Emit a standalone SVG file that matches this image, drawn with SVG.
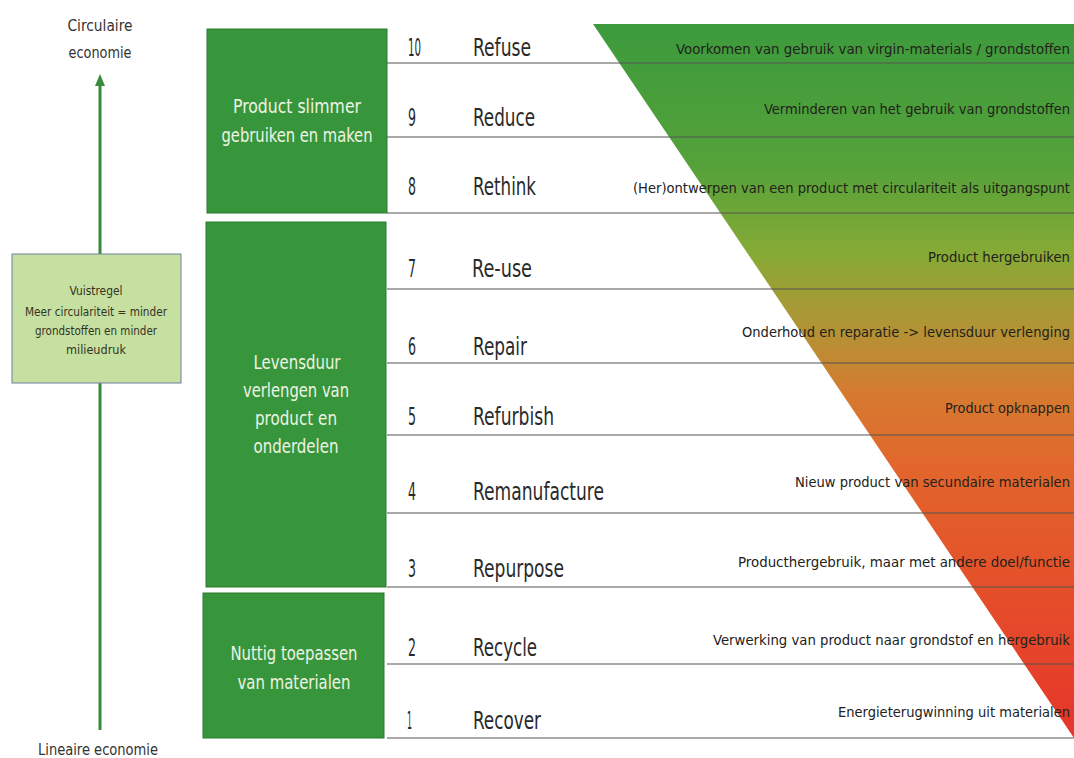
<svg xmlns="http://www.w3.org/2000/svg" width="1074" height="758" viewBox="0 0 1074 758">
<defs>
<style>
.f{font-family:"DejaVu Sans Condensed","Liberation Sans Narrow",Roboto,"Liberation Sans",sans-serif}
.num{font-size:24px;fill:#2a2a2a}
.lbl{font-size:24px;fill:#2a2a2a}
.desc{font-size:14.5px;fill:#22221c}
.box{fill:#37963b;stroke:#2b7a33;stroke-width:1}
.bt{fill:#eef3e4;text-anchor:middle}
.sep{stroke:#555550;stroke-width:1.2;fill:none}
.side{font-size:16px;fill:#333;text-anchor:middle}
.vt{font-size:12px;fill:#33331f;text-anchor:middle}
</style>
<linearGradient id="grad" gradientUnits="userSpaceOnUse" x1="0" y1="24" x2="0" y2="738">
<stop offset="0" stop-color="#3c9a3c"/>
<stop offset="0.2" stop-color="#55a23a"/>
<stop offset="0.32" stop-color="#86aa35"/>
<stop offset="0.42" stop-color="#b09535"/>
<stop offset="0.52" stop-color="#d67a30"/>
<stop offset="0.62" stop-color="#e2662c"/>
<stop offset="0.8" stop-color="#e54e2a"/>
<stop offset="1" stop-color="#e5352a"/>
</linearGradient>
</defs>
<rect width="1074" height="758" fill="#ffffff"/>

<g id="triangle">
<polygon points="593,24 1074,24 1074,738" fill="url(#grad)"/>
</g>

<g id="connectors">
<line x1="100" y1="730" x2="100" y2="383" stroke="#3a8a3a" stroke-width="3"/>
<line x1="100" y1="254" x2="100" y2="84" stroke="#3a8a3a" stroke-width="3"/>
<path d="M95,86 L100,74 L105,86 Z" fill="#3a8a3a"/>
<g class="sep">
<line x1="387" y1="63" x2="1074" y2="63"/>
<line x1="387" y1="137" x2="1074" y2="137"/>
<line x1="387" y1="213" x2="1074" y2="213"/>
<line x1="387" y1="289" x2="1074" y2="289"/>
<line x1="387" y1="363" x2="1074" y2="363"/>
<line x1="387" y1="435" x2="1074" y2="435"/>
<line x1="387" y1="513" x2="1074" y2="513"/>
<line x1="387" y1="587" x2="1074" y2="587"/>
<line x1="387" y1="664" x2="1074" y2="664"/>
<line x1="387" y1="738" x2="1074" y2="738"/>
</g>
</g>

<g id="circulaire" class="f">
<text class="side" x="100" y="31" textLength="65" lengthAdjust="spacingAndGlyphs">Circulaire</text>
<text class="side" x="100" y="58" textLength="63" lengthAdjust="spacingAndGlyphs">economie</text>
</g>

<g id="lineaire" class="f">
<text class="side" x="98" y="755" textLength="120" lengthAdjust="spacingAndGlyphs">Lineaire economie</text>
</g>

<g id="vuistregel" class="f">
<rect x="12" y="254" width="169" height="129" fill="#c6e0a2" stroke="#7080a0" stroke-width="1"/>
<text class="vt" x="96" y="295" textLength="53" lengthAdjust="spacingAndGlyphs">Vuistregel</text>
<text class="vt" x="96" y="316" textLength="142" lengthAdjust="spacingAndGlyphs">Meer circulariteit = minder</text>
<text class="vt" x="96" y="335" textLength="122" lengthAdjust="spacingAndGlyphs">grondstoffen en minder</text>
<text class="vt" x="96" y="354" textLength="60" lengthAdjust="spacingAndGlyphs">milieudruk</text>
</g>

<g id="box-slimmer" class="f">
<rect class="box" x="207" y="29" width="180" height="184"/>
<text class="bt" x="297" y="113" font-size="20" textLength="128" lengthAdjust="spacingAndGlyphs">Product slimmer</text>
<text class="bt" x="297" y="142" font-size="20" textLength="151" lengthAdjust="spacingAndGlyphs">gebruiken en maken</text>
</g>

<g id="box-levensduur" class="f">
<rect class="box" x="206" y="222" width="180" height="365"/>
<text class="bt" x="297" y="369" font-size="19" textLength="87" lengthAdjust="spacingAndGlyphs">Levensduur</text>
<text class="bt" x="296" y="397" font-size="19" textLength="106" lengthAdjust="spacingAndGlyphs">verlengen van</text>
<text class="bt" x="296" y="425" font-size="19" textLength="82" lengthAdjust="spacingAndGlyphs">product en</text>
<text class="bt" x="296" y="453" font-size="19" textLength="85" lengthAdjust="spacingAndGlyphs">onderdelen</text>
</g>

<g id="box-nuttig" class="f">
<rect class="box" x="203" y="593" width="181" height="145"/>
<text class="bt" x="294" y="660" font-size="20" textLength="127" lengthAdjust="spacingAndGlyphs">Nuttig toepassen</text>
<text class="bt" x="294" y="689" font-size="20" textLength="113" lengthAdjust="spacingAndGlyphs">van materialen</text>
</g>

<g id="row-10" class="f">
<text class="num" x="408" y="56" textLength="13" lengthAdjust="spacingAndGlyphs">10</text>
<text class="lbl" x="473" y="56" textLength="58" lengthAdjust="spacingAndGlyphs">Refuse</text>
<text class="desc" x="676" y="54" textLength="394" lengthAdjust="spacingAndGlyphs">Voorkomen van gebruik van virgin-materials / grondstoffen</text>
</g>
<g id="row-9" class="f">
<text class="num" x="408" y="126" textLength="8" lengthAdjust="spacingAndGlyphs">9</text>
<text class="lbl" x="473" y="126" textLength="62" lengthAdjust="spacingAndGlyphs">Reduce</text>
<text class="desc" x="764" y="114" textLength="306" lengthAdjust="spacingAndGlyphs">Verminderen van het gebruik van grondstoffen</text>
</g>
<g id="row-8" class="f">
<text class="num" x="408" y="195" textLength="8" lengthAdjust="spacingAndGlyphs">8</text>
<text class="lbl" x="473" y="195" textLength="63" lengthAdjust="spacingAndGlyphs">Rethink</text>
<text class="desc" x="633" y="193" textLength="437" lengthAdjust="spacingAndGlyphs">(Her)ontwerpen van een product met circulariteit als uitgangspunt</text>
</g>
<g id="row-7" class="f">
<text class="num" x="408" y="277" textLength="8" lengthAdjust="spacingAndGlyphs">7</text>
<text class="lbl" x="472" y="277" textLength="60" lengthAdjust="spacingAndGlyphs">Re-use</text>
<text class="desc" x="928" y="262" textLength="142" lengthAdjust="spacingAndGlyphs">Product hergebruiken</text>
</g>
<g id="row-6" class="f">
<text class="num" x="408" y="355" textLength="8" lengthAdjust="spacingAndGlyphs">6</text>
<text class="lbl" x="473" y="355" textLength="54" lengthAdjust="spacingAndGlyphs">Repair</text>
<text class="desc" x="742" y="337" textLength="328" lengthAdjust="spacingAndGlyphs">Onderhoud en reparatie  -&gt; levensduur verlenging</text>
</g>
<g id="row-5" class="f">
<text class="num" x="408" y="425" textLength="8" lengthAdjust="spacingAndGlyphs">5</text>
<text class="lbl" x="473" y="425" textLength="81" lengthAdjust="spacingAndGlyphs">Refurbish</text>
<text class="desc" x="945" y="413" textLength="125" lengthAdjust="spacingAndGlyphs">Product opknappen</text>
</g>
<g id="row-4" class="f">
<text class="num" x="408" y="500" textLength="8" lengthAdjust="spacingAndGlyphs">4</text>
<text class="lbl" x="473" y="500" textLength="131" lengthAdjust="spacingAndGlyphs">Remanufacture</text>
<text class="desc" x="795" y="487" textLength="275" lengthAdjust="spacingAndGlyphs">Nieuw product van secundaire materialen</text>
</g>
<g id="row-3" class="f">
<text class="num" x="408" y="577" textLength="8" lengthAdjust="spacingAndGlyphs">3</text>
<text class="lbl" x="473" y="577" textLength="91" lengthAdjust="spacingAndGlyphs">Repurpose</text>
<text class="desc" x="738" y="567" textLength="332" lengthAdjust="spacingAndGlyphs">Producthergebruik, maar met andere doel/functie</text>
</g>
<g id="row-2" class="f">
<text class="num" x="408" y="656" textLength="8" lengthAdjust="spacingAndGlyphs">2</text>
<text class="lbl" x="473" y="656" textLength="64" lengthAdjust="spacingAndGlyphs">Recycle</text>
<text class="desc" x="713" y="645" textLength="357" lengthAdjust="spacingAndGlyphs">Verwerking van product naar grondstof en hergebruik</text>
</g>
<g id="row-1" class="f">
<text class="num" x="407" y="729" textLength="5" lengthAdjust="spacingAndGlyphs">1</text>
<text class="lbl" x="473" y="729" textLength="68" lengthAdjust="spacingAndGlyphs">Recover</text>
<text class="desc" x="838" y="717" textLength="232" lengthAdjust="spacingAndGlyphs">Energieterugwinning uit materialen</text>
</g>
</svg>
